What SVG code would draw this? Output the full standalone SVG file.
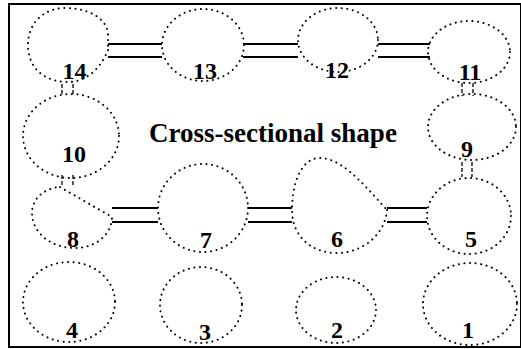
<svg xmlns="http://www.w3.org/2000/svg" width="521" height="349" viewBox="0 0 521 349">
<style>
.b{fill:none;stroke:#000;stroke-width:2;stroke-linecap:round;stroke-dasharray:0.1 5.5}
.l{font-family:"Liberation Serif","Times New Roman",serif;font-weight:bold;font-size:24px;text-anchor:middle;fill:#000}
.t{font-family:"Liberation Serif","Times New Roman",serif;font-weight:bold;font-size:27px;text-anchor:middle;fill:#000}
.c{stroke:#000;stroke-width:1.8;fill:none}
.v{stroke:#000;stroke-width:1.3;fill:none;stroke-dasharray:4 2}
</style>
<rect x="9" y="4" width="512" height="343" fill="#fff" stroke="#000" stroke-width="2"/>
<g id="connectors">
<path class="c" d="M108,44H162M108,57H162"/>
<path class="c" d="M243,44H298M243,57H298"/>
<path class="c" d="M378,44H430M378,57H430"/>
<path class="c" d="M112,208H158M112,222H158"/>
<path class="c" d="M248,208H292M248,222H292"/>
<path class="c" d="M387,208H427M387,222H427"/>
<path class="v" d="M62,84V95M73,84V95"/>
<path class="v" d="M462,83V96M473,83V96"/>
<path class="v" d="M62,175V186M73,175V186"/>
<path class="v" d="M462,162V177M472,162V177"/>
</g>
<g id="n14"><path class="b" d="M108,50 C100,70 85,83 65,82 C40,80 28,65 28,45 C28,22 45,8 65,8 C88,8 106,18 108,33 Z"/><text class="l" x="74.5" y="79">14</text></g>
<g id="n13"><ellipse class="b" cx="203" cy="45" rx="41" ry="36"/><text class="l" x="205" y="79">13</text></g>
<g id="n12"><ellipse class="b" cx="338" cy="40" rx="40" ry="32"/><text class="l" x="337" y="78">12</text></g>
<g id="n11"><ellipse class="b" cx="469" cy="52" rx="41" ry="31"/><text class="l" x="470" y="80">11</text></g>
<g id="title"><text class="t" x="273" y="142">Cross-sectional shape</text></g>
<g id="n10"><ellipse class="b" cx="71" cy="136" rx="48" ry="42"/><text class="l" x="74" y="162">10</text></g>
<g id="n9"><ellipse class="b" cx="472" cy="127" rx="44" ry="33"/><text class="l" x="467" y="157">9</text></g>
<g id="n8"><path class="b" d="M60,187 L112,217 C112,235 95,248 75,248 C50,248 32,232 32,213 C32,198 45,188 60,187 Z"/><text class="l" x="73" y="247">8</text></g>
<g id="n7"><ellipse class="b" cx="203" cy="208" rx="45" ry="44"/><text class="l" x="206" y="248">7</text></g>
<g id="n6"><path class="b" d="M387,210 C385,235 362,253 337,253 C310,253 292,235 292,210 C292,185 300,160 318,158 C340,157 360,180 387,210 Z"/><text class="l" x="337" y="247">6</text></g>
<g id="n5"><ellipse class="b" cx="469" cy="216" rx="42" ry="38"/><text class="l" x="471" y="247">5</text></g>
<g id="n4"><ellipse class="b" cx="69" cy="302" rx="46" ry="40"/><text class="l" x="72" y="338">4</text></g>
<g id="n3"><ellipse class="b" cx="201" cy="305" rx="41" ry="38"/><text class="l" x="205" y="340">3</text></g>
<g id="n2"><ellipse class="b" cx="336" cy="310" rx="40" ry="33"/><text class="l" x="337" y="338">2</text></g>
<g id="n1"><ellipse class="b" cx="470" cy="304" rx="47" ry="41"/><text class="l" x="468" y="338">1</text></g>
</svg>
